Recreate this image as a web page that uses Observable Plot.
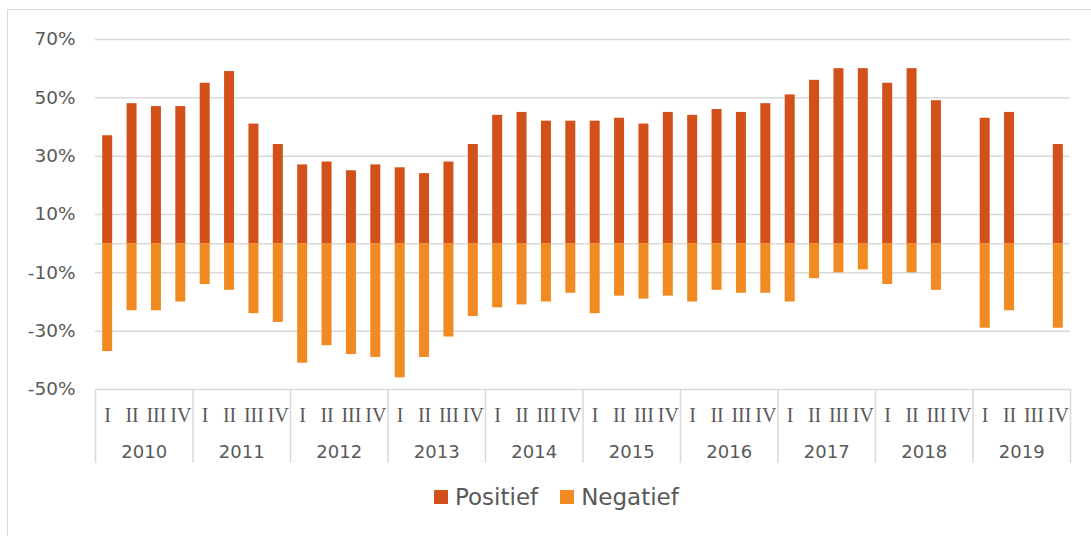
<!DOCTYPE html>
<html>
<head>
<meta charset="utf-8">
<script src="https://cdn.jsdelivr.net/npm/d3@7"></script>
<script src="https://cdn.jsdelivr.net/npm/@observablehq/plot@0.6"></script>
<style>
  html, body { margin: 0; padding: 0; background: #fff; overflow: hidden; }
  body { position: relative; width: 1091px; height: 536px; font-family: "DejaVu Sans", Verdana, sans-serif; }
  #border { position: absolute; left: 7px; top: 9px; width: 1120px; height: 560px; border: 1.5px solid #d9d9d9; box-sizing: border-box; }
  #chart { position: absolute; left: 0; top: 0; }
  #legend { position: absolute; left: 434px; top: 484px; display: flex; align-items: center; font-size: 23px; color: #595959; }
  .item { display: flex; align-items: center; margin-right: 22px; }
  .sw { width: 14px; height: 14px; margin-right: 7px; }
</style>
</head>
<body>
<div id="border"></div>
<div id="chart"></div>
<div id="legend"></div>
<script>
const years = [2010, 2011, 2012, 2013, 2014, 2015, 2016, 2017, 2018, 2019];
const quarters = ["I", "II", "III", "IV"];
const positief = [37, 48, 47, 47, 55, 59, 41, 34, 27, 28, 25, 27, 26, 24, 28, 34, 44, 45, 42, 42,
                  42, 43, 41, 45, 44, 46, 45, 48, 51, 56, 60, 60, 55, 60, 49, null, 43, 45, null, 34];
const negatief = [-37, -23, -23, -20, -14, -16, -24, -27, -41, -35, -38, -39, -46, -39, -32, -25, -22, -21, -20, -17,
                  -24, -18, -19, -18, -20, -16, -17, -17, -20, -12, -10, -9, -14, -10, -16, null, -29, -23, null, -29];
const seriesNames = ["Positief", "Negatief"];
const seriesColors = ["#D4501A", "#F08A21"];
const yTicks = [70, 50, 30, 10, -10, -30, -50];
const gridTicks = [70, 50, 30, 10, 0, -10, -30, -50];

const keys = years.flatMap(y => quarters.map(q => `${y}-${q}`));
const rows = [];
keys.forEach((k, i) => {
  if (positief[i] != null) rows.push({key: k, series: "Positief", value: positief[i]});
  if (negatief[i] != null) rows.push({key: k, series: "Negatief", value: negatief[i]});
});

const W = 1091, H = 475, ML = 95, MR = 21, MT = 39, MB = 86;
const step = (W - ML - MR) / keys.length;
const frameH = H - MT - MB;
const txt = "#595959";
const grid = "#d9d9d9";

const chart = Plot.plot({
  width: W, height: H,
  marginLeft: ML, marginRight: MR, marginTop: MT, marginBottom: MB,
  style: {fontFamily: "DejaVu Sans, Verdana, sans-serif", color: txt, background: "transparent"},
  x: {domain: keys, paddingInner: 0.59, paddingOuter: 0.295, round: false, axis: null},
  y: {domain: [-50, 70], axis: null},
  color: {domain: seriesNames, range: seriesColors},
  marks: [
    Plot.gridY(gridTicks, {stroke: grid, strokeOpacity: 1, strokeWidth: 1.5}),
    Plot.axisY(yTicks, {tickSize: 0, tickPadding: 20, tickFormat: d => d + "%", fontSize: 18.5, fill: txt, label: null}),
    Plot.barY(rows, {x: "key", y1: 0, y2: "value", fill: "series"}),
    Plot.ruleX(years, {x: d => `${d}-I`, dx: -step / 2, insetTop: frameH, insetBottom: -74, stroke: grid, strokeWidth: 1.5}),
    Plot.ruleX([years[years.length - 1]], {x: d => `${d}-IV`, dx: step / 2, insetTop: frameH, insetBottom: -74, stroke: grid, strokeWidth: 1.5}),
    Plot.text(keys, {x: d => d, text: d => d.split("-")[1], frameAnchor: "bottom", dy: 26, lineAnchor: "middle",
      fontFamily: "Liberation Serif, Times New Roman, serif", fontSize: 20, fill: txt}),
    Plot.text(years, {x: d => `${d}-II`, dx: step / 2, text: d => String(d), frameAnchor: "bottom", dy: 63, lineAnchor: "middle",
      fontSize: 18, fill: txt})
  ]
});
document.getElementById("chart").appendChild(chart);

const legend = document.getElementById("legend");
seriesNames.forEach((name, i) => {
  const item = document.createElement("div");
  item.className = "item";
  item.innerHTML = `<span class="sw" style="background:${seriesColors[i]}"></span><span>${name}</span>`;
  legend.appendChild(item);
});
</script>
</body>
</html>
